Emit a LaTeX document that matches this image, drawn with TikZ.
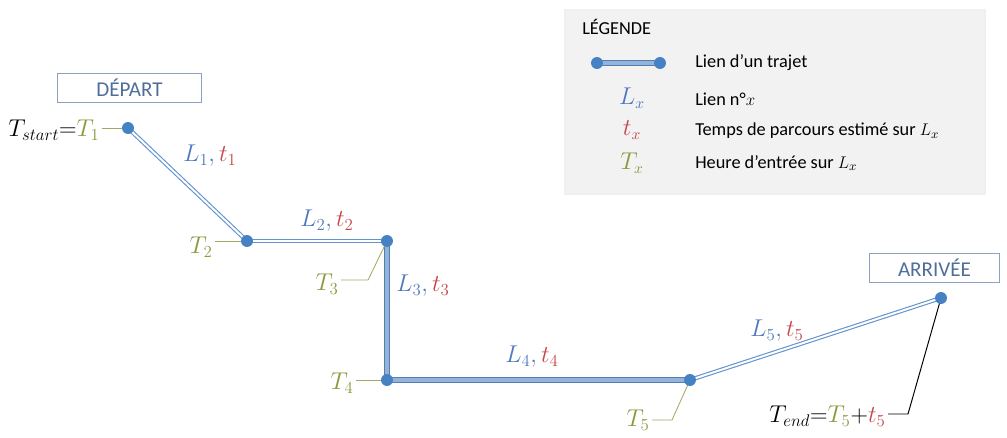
\documentclass[tikz,border=0pt]{standalone}
\usepackage{fontspec}
\setmainfont{Carlito}
\usepackage{tikz}
\definecolor{linkcol}{RGB}{100,148,205}
\definecolor{jctcol}{RGB}{70,130,195}
\definecolor{Lcol}{RGB}{79,120,190}
\definecolor{tcol}{RGB}{195,70,75}
\definecolor{Tcol}{RGB}{135,155,60}
\definecolor{leadcol}{RGB}{160,170,100}
\definecolor{boxtxt}{RGB}{80,110,155}
\definecolor{boxline}{RGB}{140,162,195}
\definecolor{legbg}{gray}{0.95}
\newcommand{\linkL}[1]{{\color{Lcol}L_{#1}}}
\newcommand{\travt}[1]{{\color{tcol}t_{#1}}}
\newcommand{\entT}[1]{{\color{Tcol}T_{#1}}}
\tikzset{
  jct/.style={circle,fill=jctcol,inner sep=0pt,minimum size=8.5pt},
  dlink/.style={draw=linkcol,line width=0.8pt,double=white,double distance=1.4pt},
  slink/.style={draw=linkcol!85!black,line width=0.5pt,double=linkcol!70!white,double distance=2.6pt},
  lead/.style={draw=leadcol,line width=0.6pt},
  lbl/.style={font=\fontsize{18}{21}\selectfont,inner sep=1.5pt},
  endbox/.style={draw=boxline,line width=0.8pt,text=boxtxt,font=\fontsize{15}{17}\selectfont,minimum height=21pt},
  legtxt/.style={font=\fontsize{13}{15}\selectfont,anchor=west,inner sep=0pt},
  legsym/.style={font=\fontsize{16}{18}\selectfont,inner sep=0pt},
}

\begin{document}
\begin{tikzpicture}[x=0.025cm,y=-0.025cm]
  \useasboundingbox (0,0) rectangle (1007,438);
  % legend
  \filldraw[fill=legbg,draw=gray!12,line width=1pt] (565,10) rectangle (985,194);
  \node[legtxt] (legtitle) at (582,27) {LÉGENDE};
  \coordinate (s1) at (597,63);
  \coordinate (s2) at (660,63);
  \draw[slink] (s1) -- (s2);
  \node[jct] (sj1) at (s1) {};
  \node[jct] (sj2) at (s2) {};
  \node[legsym] (symL) at (632,98) {$\linkL{x}$};
  \node[legsym] (symt) at (632,130) {$\travt{x}$};
  \node[legsym] (symT) at (632,163) {$\entT{x}$};
  \node[legtxt] (txt1) at (695,63) {Lien d’un trajet};
  \node[legtxt] (txt2) at (695,99) {Lien n°$x$};
  \node[legtxt] (txt3) at (695,131) {Temps de parcours estimé sur $L_x$};
  \node[legtxt] (txt4) at (695,163) {Heure d’entrée sur $L_x$};
  % route
  \coordinate (p1) at (128,128);
  \coordinate (p2) at (247,241);
  \coordinate (p3) at (387,241);
  \coordinate (p4) at (387,380);
  \coordinate (p5) at (690,380);
  \coordinate (p6) at (941,298);
  \draw[dlink] (p1) -- (p2);
  \draw[dlink] (p2) -- (p3);
  \draw[slink] (p3) -- (p4);
  \draw[slink] (p4) -- (p5);
  \draw[dlink] (p5) -- (p6);
  \node[endbox,minimum width=103pt] (depart) at (129.5,88) {DÉPART};
  \node[endbox,minimum width=93pt] (arrivee) at (934.5,268) {ARRIVÉE};
  % labels of links
  \node[lbl] (lab1) at (210,156) {$\linkL{1}{\color{Lcol},}\,\travt{1}$};
  \node[lbl] (lab2) at (327,221) {$\linkL{2}{\color{Lcol},}\,\travt{2}$};
  \node[lbl] (lab3) at (423,286) {$\linkL{3}{\color{Lcol},}\,\travt{3}$};
  \node[lbl] (lab4) at (532,357) {$\linkL{4}{\color{Lcol},}\,\travt{4}$};
  \node[lbl] (lab5) at (777,331) {$\linkL{5}{\color{Lcol},}\,\travt{5}$};
  % entry times
  \node[lbl,anchor=east] (tlab1) at (102,130) {$T_{start}{=}\entT{1}$};
  \node[lbl,anchor=east] (tlab2) at (215,247) {$\entT{2}$};
  \node[lbl,anchor=east] (tlab3) at (341,284) {$\entT{3}$};
  \node[lbl,anchor=east] (tlab4) at (356,383) {$\entT{4}$};
  \node[lbl,anchor=east] (tlab5) at (652,420) {$\entT{5}$};
  \node[lbl,anchor=east] (tlab6) at (888,416) {$T_{end}{=}\entT{5}{+}\travt{5}$};
  \coordinate (k3) at (368,280);
  \coordinate (k5) at (672,420);
  \coordinate (k6) at (908,414);
  \draw[lead] (tlab1.east |- p1) -- (p1);
  \draw[lead] (tlab2.east |- p2) -- (p2);
  \draw[lead] (tlab3.east |- k3) -- (k3) -- (p3);
  \draw[lead] (tlab4.east |- p4) -- (p4);
  \draw[lead] (tlab5.east |- k5) -- (k5) -- (p5);
  \draw[black,line width=0.7pt] (tlab6.east |- k6) -- (k6) -- (p6);
  % junctions
  \foreach \i in {1,...,6}
    \node[jct] (n\i) at (p\i) {};
\end{tikzpicture}
\end{document}
